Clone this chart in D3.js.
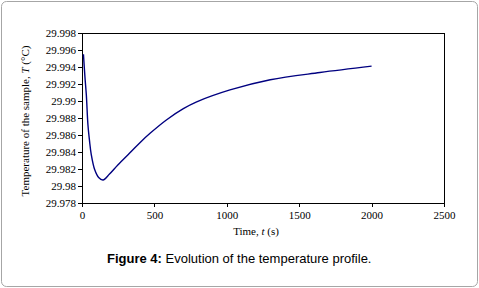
<!DOCTYPE html>
<html>
<head>
<meta charset="utf-8">
<script src="https://cdn.jsdelivr.net/npm/d3@7"></script>
<style>
  body { margin: 0; background: #fff; }
  .axis text { font-family: 'Liberation Serif', 'Times New Roman', serif; font-size: 11px; fill: #000; }
  .axis path, .axis line { stroke: #000; }
  .lbl { font-family: 'Liberation Serif', 'Times New Roman', serif; font-size: 11px; fill: #000; }
  .cap { font-family: 'Liberation Sans', Arial, sans-serif; font-size: 13px; fill: #000; }
</style>
</head>
<body>
<div id="chart"></div>
<script>
// time (s) and sample temperature (°C)
const times = [10, 20, 30, 41, 52, 64, 88, 115, 145, 190, 249, 331, 400, 470, 585, 700, 792, 1022, 1300, 1643, 2000]
const temps = [29.9955, 29.9929, 29.9907, 29.9872, 29.9853, 29.9837, 29.9819, 29.9810, 29.9807, 29.9814,
  29.9825, 29.9839, 29.9851, 29.9862, 29.9878, 29.9891, 29.9899, 29.9913, 29.9925, 29.99335, 29.9941]
const xTicks = [0, 500, 1000, 1500, 2000, 2500]
const yTicks = [29.978, 29.98, 29.982, 29.984, 29.986, 29.988, 29.99, 29.992, 29.994, 29.996, 29.998]

const w = 479, h = 288
const margin = {left: 82, top: 33, right: 35, bottom: 85}
const mainW = w - margin.left - margin.right,
  mainH = h - margin.top - margin.bottom

let svg = d3.select('#chart').append('svg').attr('width', w).attr('height', h)

// outer frame
svg.append('rect').attr('x', 1.5).attr('y', 1.5).attr('width', 476).attr('height', 285)
  .attr('rx', 5).attr('fill', 'none').attr('stroke', '#a6a6a6')

let x = d3.scaleLinear().domain([0, 2500]).range([0, mainW])
let y = d3.scaleLinear().domain([29.978, 29.998]).range([mainH, 0])

let g = svg.append('g').attr('transform', `translate(${margin.left},${margin.top})`)

// plot box
g.append('rect').attr('width', mainW).attr('height', mainH)
  .attr('fill', 'none').attr('stroke', '#000').attr('shape-rendering', 'crispEdges')

g.append('g').classed('axis', true)
  .attr('transform', `translate(0,${mainH})`)
  .call(d3.axisBottom(x).tickValues(xTicks).tickSizeInner(4).tickSizeOuter(0).tickPadding(4).tickFormat(d3.format('d')))
  .attr('shape-rendering', 'crispEdges')

g.append('g').classed('axis', true)
  .call(d3.axisLeft(y).tickValues(yTicks).tickSizeInner(4).tickSizeOuter(0).tickPadding(2)
    .tickFormat(d => String(+d.toFixed(3))))
  .attr('shape-rendering', 'crispEdges')

g.selectAll('.axis .domain').remove()

let line = d3.line().x(d => x(d[0])).y(d => y(d[1])).curve(d3.curveCatmullRom.alpha(0.5))
g.append('path').datum(times.map((t, i) => [t, temps[i]]))
  .attr('d', line).attr('fill', 'none').attr('stroke', '#000080').attr('stroke-width', 1.4)

// axis titles
let xl = svg.append('text').classed('lbl', true).attr('x', 256).attr('y', 235).attr('text-anchor', 'middle')
xl.append('tspan').text('Time, ')
xl.append('tspan').attr('font-style', 'italic').text('t')
xl.append('tspan').text(' (s)')

let yl = svg.append('text').classed('lbl', true).attr('text-anchor', 'middle')
  .attr('transform', 'translate(29,121) rotate(-90)')
yl.append('tspan').text('Temperature of the sample, ')
yl.append('tspan').attr('font-style', 'italic').text('T')
yl.append('tspan').text(' (°C)')

// caption
let cap = svg.append('text').classed('cap', true).attr('x', 107).attr('y', 263)
cap.append('tspan').attr('font-weight', 'bold').text('Figure 4:')
cap.append('tspan').text(' Evolution of the temperature profile.')
</script>
</body>
</html>
